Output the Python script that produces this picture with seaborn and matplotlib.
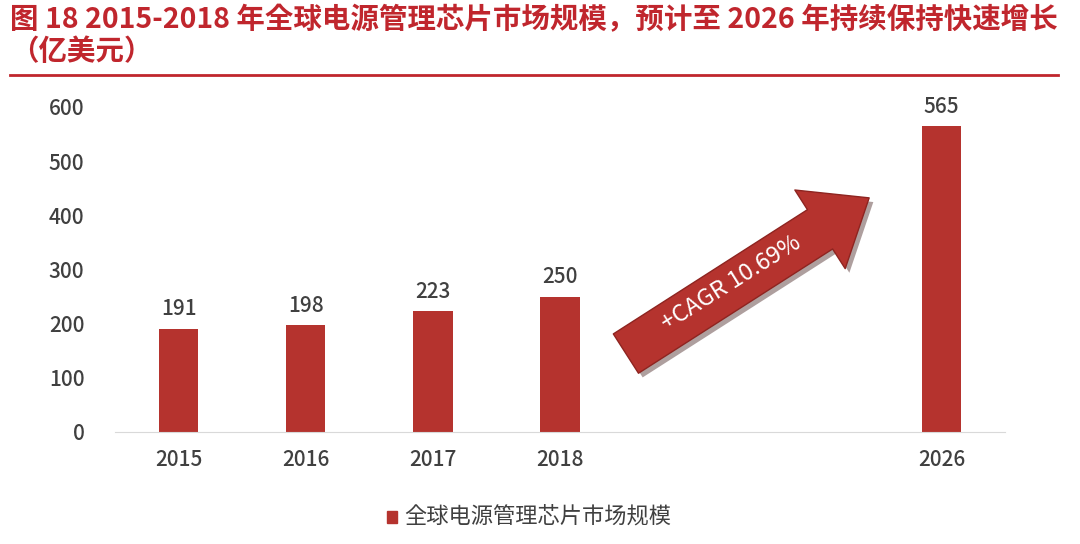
import matplotlib
matplotlib.use("Agg")
import matplotlib.pyplot as plt
import seaborn as sns
import pandas as pd
from matplotlib.patches import FancyArrowPatch, Rectangle
import matplotlib.patheffects as pe

years = ["2015", "2016", "2017", "2018", "2026"]
values = [191, 198, 223, 250, 565]
order = ["2015", "2016", "2017", "2018", "_a", "_b", "2026"]
title = "图 18 2015-2018 年全球电源管理芯片市场规模，预计至 2026 年持续保持快速增长\n（亿美元）"
legend_label = "全球电源管理芯片市场规模"
cagr = "+CAGR 10.69%"

plt.rcParams["font.family"] = ["sans-serif"]
plt.rcParams["font.sans-serif"] = ["Noto Sans CJK SC", "Noto Sans CJK JP", "Noto Sans CJK TC", "Noto Sans CJK KR", "DejaVu Sans"]
red = "#B5332E"
fig = plt.figure(figsize=(10.8, 5.44), dpi=100)
ax = fig.add_axes([115/1080, 1-432/544, 890/1080, 325/544])
df = pd.DataFrame({"year": years, "value": values})
sns.barplot(data=df, x="year", y="value", order=order, color=red, width=0.31, ax=ax, saturation=1)
ax.set_xlim(-0.5, 6.5)
ax.set_ylim(0, 600)
ax.set_yticks(range(0, 601, 100))
ax.set_xticks([0, 1, 2, 3, 6])
ax.set_xticklabels(years)
ax.set_xlabel(""); ax.set_ylabel("")
for s in ["top", "right", "left"]:
    ax.spines[s].set_visible(False)
ax.spines["bottom"].set_color("#D9D9D9")
ax.tick_params(length=0, labelsize=15, colors="#404040", pad=12)
ax.tick_params(axis="y", pad=22)
for lab in ax.get_xticklabels() + ax.get_yticklabels():
    lab.set_fontweight("medium")
for x, v in zip([0, 1, 2, 3, 6], values):
    ax.text(x, v + 15, str(v), ha="center", va="bottom", fontsize=15, color="#404040", fontweight="medium")

arr = FancyArrowPatch((3.5, 142), (5.45, 435), arrowstyle="simple,head_width=2.4,head_length=1.5,tail_width=1.2",
                      mutation_scale=28, color="#B5332E", ec="#8E2420", lw=1,
                      path_effects=[pe.SimplePatchShadow(offset=(3, -3), alpha=0.4), pe.Normal()])
ax.add_patch(arr)
ax.text(4.35, 275, cagr, rotation=32, ha="center", va="center", color="white", fontsize=17, rotation_mode="anchor")

fig.text(10/1080, 1-36/544, title, color="#C0262D", fontsize=20.5, fontweight="bold", va="center", linespacing=1.15)
fig.add_artist(plt.Line2D([10/1080, 1058/1080], [1-75/544]*2, color="#C0262D", lw=2))
fig.add_artist(Rectangle((387/1080, 1-523/544), 10/1080, 12/544, color=red, transform=fig.transFigure))
fig.text(404/1080, 1-517/544, legend_label, fontsize=16, color="#404040", va="center")
fig.savefig("out.png", dpi=100)
